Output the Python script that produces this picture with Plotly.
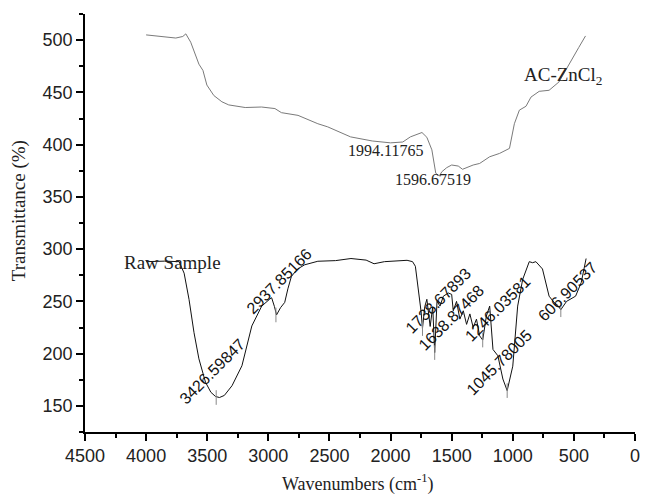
import plotly.graph_objects as go

# AC-ZnCl2 spectrum (gray, upper)
ac_x = [4000, 3900, 3757, 3700, 3675, 3635, 3568, 3535, 3503, 3446, 3380, 3324, 3189, 3056,
        2946, 2893, 2757, 2595, 2514, 2327, 2150, 2000, 1900, 1838, 1775, 1743, 1703, 1662,
        1630, 1600, 1581, 1540, 1500, 1446, 1411, 1324, 1271, 1189, 1108, 1054, 1027, 987,
        946, 892, 851, 784, 703, 622, 541, 460, 405]
ac_y = [505, 503.5, 502, 503.5, 506, 498, 477, 471, 457, 447, 441, 438, 435.5, 436,
        434.5, 430.6, 428, 420, 417, 407.4, 403.5, 401.7, 402.5, 407.4, 410.5, 411.6, 407, 395,
        372.6, 370, 374, 378, 380.5, 379.5, 376.4, 380.5, 382, 388.4, 391.6, 395, 396.4, 420,
        433, 436.7, 445.5, 451, 452, 460, 477, 493, 504]

# Raw sample spectrum (black, lower)
raw_x = [4000, 3850, 3730, 3689, 3649, 3608, 3568, 3514, 3470, 3432, 3400, 3360, 3297, 3216,
         3135, 3054, 2990, 2973, 2950, 2933, 2900, 2866, 2840, 2811, 2760, 2703, 2595, 2450,
         2324, 2200, 2135, 2050, 1865, 1820, 1797, 1770, 1750, 1739, 1720, 1703, 1676, 1655,
         1639, 1620, 1595, 1568, 1527, 1500, 1487, 1460, 1433, 1405, 1378, 1351, 1324, 1297,
         1271, 1246, 1216, 1189, 1162, 1122, 1081, 1046, 1000, 960, 919, 865, 838, 811, 757,
         703, 662, 630, 607, 560, 486, 440, 400]
raw_y = [288, 288.5, 288, 277, 252, 220, 195, 172.6, 163, 159, 158, 160, 169.3, 188.4,
         226.5, 245.5, 252, 253.5, 245, 237, 244, 249, 262, 274, 281, 285, 288.4, 289,
         291, 289.5, 286, 288, 289.3, 288, 283.6, 261, 240, 224, 245, 252, 226, 245,
         201, 250, 245.5, 255, 258, 256.7, 241, 250, 233, 241, 228, 238, 225, 233,
         217, 213, 236, 245.5, 204, 198, 175.7, 164.6, 188, 245.5, 271, 288, 287, 288, 281,
         255, 249, 246, 242, 250, 255, 268, 291]

# Marked peaks of the raw sample
peak_x = [3426.59847, 2937.85166, 1738.67893, 1638.87468, 1246.03581, 1045.78005, 606.90537]
peak_y = [158, 237, 224, 201, 213, 164.6, 242]
peak_labels = ["3426.59847", "2937.85166", "1738.67893", "1638.87468",
               "1246.03581", "1045.78005", "606.90537"]

# Marked points of AC-ZnCl2
ac_peak_x = [1994.11765, 1596.67519]
ac_peak_y = [401.7, 370]
ac_peak_labels = ["1994.11765", "1596.67519"]

x_ticks = [4500, 4000, 3500, 3000, 2500, 2000, 1500, 1000, 500, 0]
y_ticks = [150, 200, 250, 300, 350, 400, 450, 500]

fig = go.Figure()
fig.add_trace(go.Scatter(x=ac_x, y=ac_y, mode="lines",
                         line=dict(color="#7a7a7a", width=1), showlegend=False))
fig.add_trace(go.Scatter(x=raw_x, y=raw_y, mode="lines",
                         line=dict(color="#111111", width=1), showlegend=False))

# drop markers at raw peaks
dx, dy = [], []
for px_, py_ in zip(peak_x, peak_y):
    dx += [px_, px_, None]
    dy += [py_ - 7, py_ + 7, None]
fig.add_trace(go.Scatter(x=dx, y=dy, mode="lines",
                         line=dict(color="#888888", width=1), showlegend=False))

serif = "Liberation Serif, Times New Roman, serif"
sans = "Liberation Sans, Arial, sans-serif"

shifts = [(-4, 26), (4, 34), (16, 28), (17, 35), (15, 32), (-8, 28), (7, 18)]
annotations = []
for (px_, py_, t, (xs, ys)) in zip(peak_x, peak_y, peak_labels, shifts):
    annotations.append(dict(x=px_, y=py_, text=t, showarrow=False, textangle=-45,
                            xshift=xs, yshift=ys, xanchor="center", yanchor="middle",
                            font=dict(family=sans, size=16, color="#111111")))

ac_shifts = [(-6, -8), (-7, -4)]
for (px_, py_, t, (xs, ys)) in zip(ac_peak_x, ac_peak_y, ac_peak_labels, ac_shifts):
    annotations.append(dict(x=px_, y=py_, text=t, showarrow=False,
                            xshift=xs, yshift=ys, xanchor="center", yanchor="middle",
                            font=dict(family=serif, size=16, color="#222222")))

annotations.append(dict(x=592, y=466, text="AC-ZnCl<sub>2</sub>", showarrow=False,
                        xanchor="center", yanchor="middle",
                        font=dict(family=serif, size=19, color="#222222")))
annotations.append(dict(x=3782, y=287, text="Raw Sample", showarrow=False,
                        xanchor="center", yanchor="middle",
                        font=dict(family=serif, size=19, color="#222222")))
# axis titles
annotations.append(dict(xref="paper", yref="paper", x=0.497, y=-0.121,
                        text="Wavenumbers (cm<sup>-1</sup>)", showarrow=False,
                        xanchor="center", yanchor="middle",
                        font=dict(family=serif, size=18, color="#222222")))
annotations.append(dict(xref="paper", yref="paper", x=-0.12, y=0.528,
                        text="Transmittance (%)", showarrow=False, textangle=-90,
                        xanchor="center", yanchor="middle",
                        font=dict(family=serif, size=19, color="#222222")))

fig.update_layout(
    width=645, height=497,
    margin=dict(l=85, r=5, t=14, b=65),
    plot_bgcolor="white", paper_bgcolor="white",
    annotations=annotations,
    showlegend=False,
)
fig.update_xaxes(range=[4500, 0], tickvals=x_ticks, ticks="outside", ticklen=7, tickwidth=1.5,
                 showline=True, linecolor="black", linewidth=1.5, showgrid=False, zeroline=False,
                 tickfont=dict(family=sans, size=18, color="#222222"),
                 ticklabeloverflow="allow",
                 minor=dict(dtick=250, ticks="outside", ticklen=4, tickwidth=1.5, tickcolor="black"),
                 tickcolor="black")
fig.update_yaxes(range=[125, 525], tickvals=y_ticks, ticks="outside", ticklen=7, tickwidth=1.5,
                 showline=True, linecolor="black", linewidth=1.5, showgrid=False, zeroline=False,
                 tickfont=dict(family=sans, size=18, color="#222222"),
                 minor=dict(dtick=25, tick0=0, ticks="outside", ticklen=4, tickwidth=1.5, tickcolor="black"),
                 tickcolor="black")

fig.write_html("out.html")
